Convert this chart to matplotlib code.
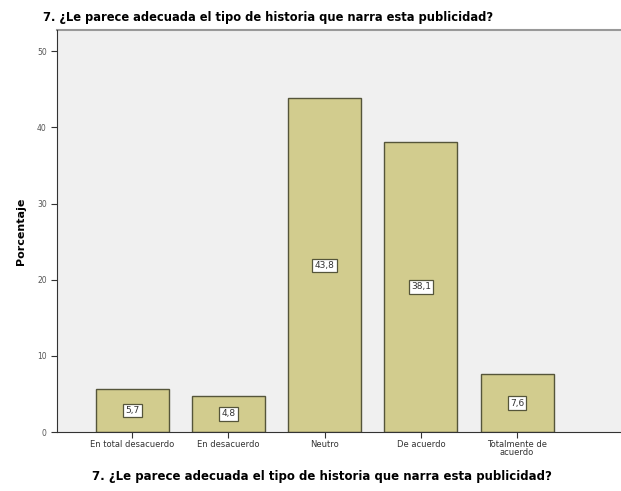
import matplotlib
matplotlib.use("Agg")
import matplotlib.pyplot as plt

categories = ["En total desacuerdo", "En desacuerdo", "Neutro", "De acuerdo", "Totalmente de\nacuerdo"]
values = [5.7, 4.8, 43.8, 38.1, 7.6]
value_labels = ["5,7", "4,8", "43,8", "38,1", "7,6"]
yticks = [0, 10, 20, 30, 40, 50]

title = "7. ¿Le parece adecuada el tipo de historia que narra esta publicidad?"

fig = plt.figure(figsize=(6.21, 4.91), dpi=100)
ax = fig.add_axes([0.092, 0.12, 0.908, 0.819])
ax.set_facecolor("#f0f0f0")

x = list(range(len(categories)))
ax.bar(x, values, width=0.76, color="#d2cc8e", edgecolor="#55553a", linewidth=1.0, zorder=2)

for xi, v, lab in zip(x, values, value_labels):
    ax.text(xi, v / 2, lab, ha="center", va="center", fontsize=6.5, color="#333333",
            bbox=dict(boxstyle="square,pad=0.25", facecolor="white", edgecolor="#55553a", linewidth=0.9),
            zorder=3)

ax.set_xlim(-0.78, 5.08)
ax.set_ylim(0, 52.8)
ax.set_xticks(x)
ax.set_xticklabels(categories, fontsize=6, color="#333333", linespacing=0.9)
ax.set_yticks(yticks)
ax.set_yticklabels([str(t) for t in yticks], fontsize=5.5, color="#555555")
ax.tick_params(axis="both", direction="out", length=4, width=0.8, color="#333333")
ax.tick_params(axis="x", pad=1.5)

for side in ["top", "right"]:
    ax.spines[side].set_visible(False)
ax.spines["left"].set_color("#333333")
ax.spines["bottom"].set_color("#333333")
ax.plot([0, 1], [1, 1], transform=ax.transAxes, color="#999999", linewidth=1.5, clip_on=False)

ax.set_ylabel("Porcentaje", fontsize=8, fontweight="bold", labelpad=8)
ax.set_xlabel(title, fontsize=8.5, fontweight="bold")
ax.xaxis.set_label_coords(0.47, -0.095)
fig.text(0.07, 0.965, title, fontsize=8.3, fontweight="bold", ha="left", va="center")

fig.savefig("out.png", dpi=100)
